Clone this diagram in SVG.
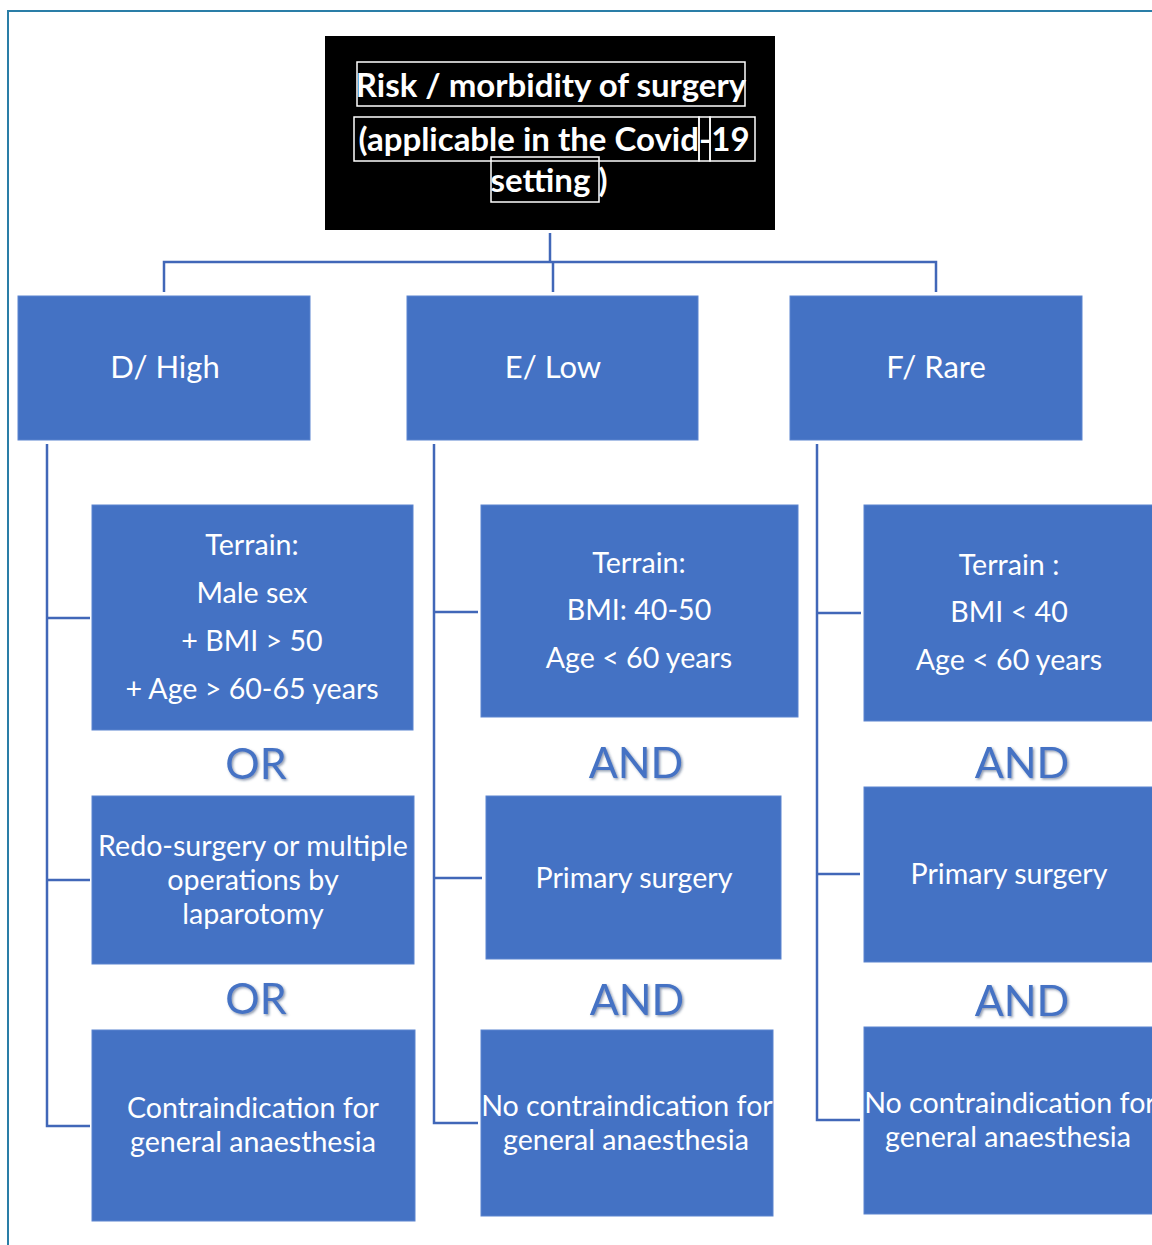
<svg xmlns="http://www.w3.org/2000/svg" width="1152" height="1245" viewBox="0 0 1152 1245">
<defs>
<style>
.box{fill:#4472c4;stroke:#5b84cf;stroke-width:1}
.t{font-family:Lato,"Liberation Sans",sans-serif;fill:#fff;text-anchor:middle;dominant-baseline:central}
.t28{font-size:28.6px}
.t30{font-size:31px}
.logic{font-family:Lato,"Liberation Sans",sans-serif;font-size:43px;fill:#4472c4;text-anchor:middle;dominant-baseline:central;filter:url(#sh)}
.con{fill:none;stroke:#4167b8;stroke-width:2.5}
.tb{fill:none;stroke:#fff;stroke-width:1.5}
.title{font-family:Lato,"Liberation Sans",sans-serif;font-weight:bold;font-size:33px;fill:#fff;text-anchor:middle;dominant-baseline:central}
</style>
<filter id="sh" x="-20%" y="-20%" width="140%" height="140%">
<feDropShadow dx="1.5" dy="1.5" stdDeviation="1" flood-color="#203864" flood-opacity="0.5"/>
</filter>
</defs>
<rect width="1152" height="1245" fill="#fff"/>
<path d="M8 1245 V11 H1152" fill="none" stroke="#2a7ea7" stroke-width="2"/>

<g id="connectors">
<path class="con" d="M550 233 V262 M164 292 V262 H936 V292 M553 262 V292"/>
<path class="con" d="M47 444 V1126 H90 M47 618 H90 M47 880 H90"/>
<path class="con" d="M434 444 V1123 H478 M434 612 H478 M434 878 H482"/>
<path class="con" d="M817 444 V1120 H860 M817 613 H861 M817 874 H860"/>
</g>

<g id="root">
<rect x="325" y="36" width="450" height="194" fill="#000"/>
<rect class="tb" x="357" y="62" width="388" height="44"/>
<rect class="tb" x="354" y="117" width="345" height="44"/>
<rect class="tb" x="699" y="117" width="11" height="44"/>
<rect class="tb" x="710" y="117" width="45" height="44"/>
<rect class="tb" x="491" y="157" width="108" height="45"/>
<text class="title" x="551" y="84">Risk / morbidity of surgery</text>
<text class="title" x="554" y="138">(applicable in the Covid-19</text>
<text class="title" x="549" y="179">setting )</text>
</g>

<g id="D"><rect class="box" x="18" y="296" width="292" height="144"/><text class="t t30" x="165" y="366">D/ High</text></g>
<g id="E"><rect class="box" x="407" y="296" width="291" height="144"/><text class="t t30" x="553" y="366">E/ Low</text></g>
<g id="F"><rect class="box" x="790" y="296" width="292" height="144"/><text class="t t30" x="936" y="366">F/ Rare</text></g>

<g id="D1"><rect class="box" x="92" y="505" width="321" height="225"/>
<text class="t t28" x="252" y="544">Terrain:</text>
<text class="t t28" x="252" y="592">Male sex</text>
<text class="t t28" x="252" y="640">+ BMI &gt; 50</text>
<text class="t t28" x="252" y="688">+ Age &gt; 60-65 years</text></g>
<text class="logic" x="256" y="762">OR</text>
<g id="D2"><rect class="box" x="92" y="796" width="322" height="168"/>
<text class="t t28" x="253" y="845">Redo-surgery or multiple</text>
<text class="t t28" x="253" y="879">operations by</text>
<text class="t t28" x="253" y="913">laparotomy</text></g>
<text class="logic" x="256" y="997">OR</text>
<g id="D3"><rect class="box" x="92" y="1030" width="323" height="191"/>
<text class="t t28" x="253" y="1107">Contraindication for</text>
<text class="t t28" x="253" y="1141">general anaesthesia</text></g>

<g id="E1"><rect class="box" x="481" y="505" width="317" height="212"/>
<text class="t t28" x="639" y="562">Terrain:</text>
<text class="t t28" x="639" y="609">BMI: 40-50</text>
<text class="t t28" x="639" y="657">Age &lt; 60 years</text></g>
<text class="logic" x="636" y="761">AND</text>
<g id="E2"><rect class="box" x="486" y="796" width="295" height="163"/>
<text class="t t28" x="634" y="877">Primary surgery</text></g>
<text class="logic" x="637" y="998">AND</text>
<g id="E3"><rect class="box" x="481" y="1030" width="292" height="186"/>
<text class="t t28" x="627" y="1105">No contraindication for</text>
<text class="t t28" x="626" y="1139">general anaesthesia</text></g>

<g id="F1"><rect class="box" x="864" y="505" width="330" height="216"/>
<text class="t t28" x="1009" y="564">Terrain :</text>
<text class="t t28" x="1009" y="611">BMI &lt; 40</text>
<text class="t t28" x="1009" y="659">Age &lt; 60 years</text></g>
<text class="logic" x="1022" y="761">AND</text>
<g id="F2"><rect class="box" x="864" y="787" width="330" height="175"/>
<text class="t t28" x="1009" y="873">Primary surgery</text></g>
<text class="logic" x="1022" y="999">AND</text>
<g id="F3"><rect class="box" x="864" y="1027" width="330" height="187"/>
<text class="t t28" x="1010" y="1102">No contraindication for</text>
<text class="t t28" x="1008" y="1136">general anaesthesia</text></g>
</svg>
